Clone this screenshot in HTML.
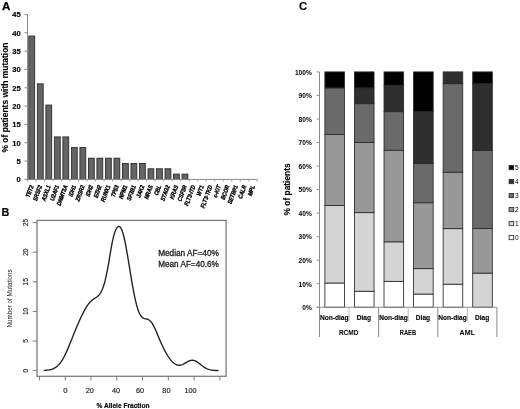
<!DOCTYPE html>
<html><head><meta charset="utf-8"><style>
html,body{margin:0;padding:0;background:#fff;}
svg{display:block;filter:grayscale(1);}
text{font-family:"Liberation Sans", sans-serif;}
</style></head><body>
<svg width="520" height="409" viewBox="0 0 520 409" font-family='"Liberation Sans", sans-serif'>
<rect width="520" height="409" fill="#fff"/>
<text x="1.9" y="9.5" font-size="11.6" font-weight="bold" stroke="#000" stroke-width="0.25">A</text>
<line x1="27.5" y1="14.5" x2="27.5" y2="179.4" stroke="#8a8a8a" stroke-width="1"/>
<line x1="24.5" y1="179.40" x2="27.5" y2="179.40" stroke="#8a8a8a" stroke-width="1"/>
<text x="20.7" y="182.20" font-size="7.6" font-weight="bold" text-anchor="end" stroke="#000" stroke-width="0.15">0</text>
<line x1="24.5" y1="161.08" x2="27.5" y2="161.08" stroke="#8a8a8a" stroke-width="1"/>
<text x="20.7" y="163.88" font-size="7.6" font-weight="bold" text-anchor="end" stroke="#000" stroke-width="0.15">5</text>
<line x1="24.5" y1="142.76" x2="27.5" y2="142.76" stroke="#8a8a8a" stroke-width="1"/>
<text x="20.7" y="145.56" font-size="7.6" font-weight="bold" text-anchor="end" stroke="#000" stroke-width="0.15">10</text>
<line x1="24.5" y1="124.44" x2="27.5" y2="124.44" stroke="#8a8a8a" stroke-width="1"/>
<text x="20.7" y="127.24" font-size="7.6" font-weight="bold" text-anchor="end" stroke="#000" stroke-width="0.15">15</text>
<line x1="24.5" y1="106.12" x2="27.5" y2="106.12" stroke="#8a8a8a" stroke-width="1"/>
<text x="20.7" y="108.92" font-size="7.6" font-weight="bold" text-anchor="end" stroke="#000" stroke-width="0.15">20</text>
<line x1="24.5" y1="87.80" x2="27.5" y2="87.80" stroke="#8a8a8a" stroke-width="1"/>
<text x="20.7" y="90.60" font-size="7.6" font-weight="bold" text-anchor="end" stroke="#000" stroke-width="0.15">25</text>
<line x1="24.5" y1="69.48" x2="27.5" y2="69.48" stroke="#8a8a8a" stroke-width="1"/>
<text x="20.7" y="72.28" font-size="7.6" font-weight="bold" text-anchor="end" stroke="#000" stroke-width="0.15">30</text>
<line x1="24.5" y1="51.16" x2="27.5" y2="51.16" stroke="#8a8a8a" stroke-width="1"/>
<text x="20.7" y="53.96" font-size="7.6" font-weight="bold" text-anchor="end" stroke="#000" stroke-width="0.15">35</text>
<line x1="24.5" y1="32.84" x2="27.5" y2="32.84" stroke="#8a8a8a" stroke-width="1"/>
<text x="20.7" y="35.64" font-size="7.6" font-weight="bold" text-anchor="end" stroke="#000" stroke-width="0.15">40</text>
<line x1="24.5" y1="14.52" x2="27.5" y2="14.52" stroke="#8a8a8a" stroke-width="1"/>
<text x="20.7" y="17.32" font-size="7.6" font-weight="bold" text-anchor="end" stroke="#000" stroke-width="0.15">45</text>
<line x1="27.50" y1="179.4" x2="27.50" y2="181.6" stroke="#8a8a8a" stroke-width="0.8"/>
<line x1="36.01" y1="179.4" x2="36.01" y2="181.6" stroke="#8a8a8a" stroke-width="0.8"/>
<line x1="44.52" y1="179.4" x2="44.52" y2="181.6" stroke="#8a8a8a" stroke-width="0.8"/>
<line x1="53.03" y1="179.4" x2="53.03" y2="181.6" stroke="#8a8a8a" stroke-width="0.8"/>
<line x1="61.54" y1="179.4" x2="61.54" y2="181.6" stroke="#8a8a8a" stroke-width="0.8"/>
<line x1="70.06" y1="179.4" x2="70.06" y2="181.6" stroke="#8a8a8a" stroke-width="0.8"/>
<line x1="78.57" y1="179.4" x2="78.57" y2="181.6" stroke="#8a8a8a" stroke-width="0.8"/>
<line x1="87.08" y1="179.4" x2="87.08" y2="181.6" stroke="#8a8a8a" stroke-width="0.8"/>
<line x1="95.59" y1="179.4" x2="95.59" y2="181.6" stroke="#8a8a8a" stroke-width="0.8"/>
<line x1="104.10" y1="179.4" x2="104.10" y2="181.6" stroke="#8a8a8a" stroke-width="0.8"/>
<line x1="112.61" y1="179.4" x2="112.61" y2="181.6" stroke="#8a8a8a" stroke-width="0.8"/>
<line x1="121.12" y1="179.4" x2="121.12" y2="181.6" stroke="#8a8a8a" stroke-width="0.8"/>
<line x1="129.63" y1="179.4" x2="129.63" y2="181.6" stroke="#8a8a8a" stroke-width="0.8"/>
<line x1="138.14" y1="179.4" x2="138.14" y2="181.6" stroke="#8a8a8a" stroke-width="0.8"/>
<line x1="146.66" y1="179.4" x2="146.66" y2="181.6" stroke="#8a8a8a" stroke-width="0.8"/>
<line x1="155.17" y1="179.4" x2="155.17" y2="181.6" stroke="#8a8a8a" stroke-width="0.8"/>
<line x1="163.68" y1="179.4" x2="163.68" y2="181.6" stroke="#8a8a8a" stroke-width="0.8"/>
<line x1="172.19" y1="179.4" x2="172.19" y2="181.6" stroke="#8a8a8a" stroke-width="0.8"/>
<line x1="180.70" y1="179.4" x2="180.70" y2="181.6" stroke="#8a8a8a" stroke-width="0.8"/>
<line x1="189.21" y1="179.4" x2="189.21" y2="181.6" stroke="#8a8a8a" stroke-width="0.8"/>
<line x1="197.72" y1="179.4" x2="197.72" y2="181.6" stroke="#8a8a8a" stroke-width="0.8"/>
<line x1="206.23" y1="179.4" x2="206.23" y2="181.6" stroke="#8a8a8a" stroke-width="0.8"/>
<line x1="214.74" y1="179.4" x2="214.74" y2="181.6" stroke="#8a8a8a" stroke-width="0.8"/>
<line x1="223.26" y1="179.4" x2="223.26" y2="181.6" stroke="#8a8a8a" stroke-width="0.8"/>
<line x1="231.77" y1="179.4" x2="231.77" y2="181.6" stroke="#8a8a8a" stroke-width="0.8"/>
<line x1="240.28" y1="179.4" x2="240.28" y2="181.6" stroke="#8a8a8a" stroke-width="0.8"/>
<line x1="248.79" y1="179.4" x2="248.79" y2="181.6" stroke="#8a8a8a" stroke-width="0.8"/>
<line x1="257.30" y1="179.4" x2="257.30" y2="181.6" stroke="#8a8a8a" stroke-width="0.8"/>
<rect x="28.84" y="36.03" width="5.85" height="143.37" fill="#646464" stroke="#262626" stroke-width="0.85"/>
<text transform="translate(33.76,186.10) rotate(-70) scale(0.83,1)" font-size="6.1" font-weight="bold" font-style="italic" text-anchor="end" stroke="#000" stroke-width="0.35">TET2</text>
<rect x="37.35" y="83.82" width="5.85" height="95.58" fill="#646464" stroke="#262626" stroke-width="0.85"/>
<text transform="translate(42.27,186.10) rotate(-70) scale(0.83,1)" font-size="6.1" font-weight="bold" font-style="italic" text-anchor="end" stroke="#000" stroke-width="0.35">SRSF2</text>
<rect x="45.86" y="105.06" width="5.85" height="74.34" fill="#646464" stroke="#262626" stroke-width="0.85"/>
<text transform="translate(50.78,186.10) rotate(-70) scale(0.83,1)" font-size="6.1" font-weight="bold" font-style="italic" text-anchor="end" stroke="#000" stroke-width="0.35">ASXL1</text>
<rect x="54.37" y="136.92" width="5.85" height="42.48" fill="#646464" stroke="#262626" stroke-width="0.85"/>
<text transform="translate(59.29,186.10) rotate(-70) scale(0.83,1)" font-size="6.1" font-weight="bold" font-style="italic" text-anchor="end" stroke="#000" stroke-width="0.35">U2AF1</text>
<rect x="62.88" y="136.92" width="5.85" height="42.48" fill="#646464" stroke="#262626" stroke-width="0.85"/>
<text transform="translate(67.80,186.10) rotate(-70) scale(0.83,1)" font-size="6.1" font-weight="bold" font-style="italic" text-anchor="end" stroke="#000" stroke-width="0.35">DNMT3A</text>
<rect x="71.39" y="147.54" width="5.85" height="31.86" fill="#646464" stroke="#262626" stroke-width="0.85"/>
<text transform="translate(76.31,186.10) rotate(-70) scale(0.83,1)" font-size="6.1" font-weight="bold" font-style="italic" text-anchor="end" stroke="#000" stroke-width="0.35">IDH1</text>
<rect x="79.90" y="147.54" width="5.85" height="31.86" fill="#646464" stroke="#262626" stroke-width="0.85"/>
<text transform="translate(84.82,186.10) rotate(-70) scale(0.83,1)" font-size="6.1" font-weight="bold" font-style="italic" text-anchor="end" stroke="#000" stroke-width="0.35">ZRSR2</text>
<rect x="88.41" y="158.16" width="5.85" height="21.24" fill="#646464" stroke="#262626" stroke-width="0.85"/>
<text transform="translate(93.33,186.10) rotate(-70) scale(0.83,1)" font-size="6.1" font-weight="bold" font-style="italic" text-anchor="end" stroke="#000" stroke-width="0.35">IDH2</text>
<rect x="96.92" y="158.16" width="5.85" height="21.24" fill="#646464" stroke="#262626" stroke-width="0.85"/>
<text transform="translate(101.84,186.10) rotate(-70) scale(0.83,1)" font-size="6.1" font-weight="bold" font-style="italic" text-anchor="end" stroke="#000" stroke-width="0.35">EZH2</text>
<rect x="105.44" y="158.16" width="5.85" height="21.24" fill="#646464" stroke="#262626" stroke-width="0.85"/>
<text transform="translate(110.36,186.10) rotate(-70) scale(0.83,1)" font-size="6.1" font-weight="bold" font-style="italic" text-anchor="end" stroke="#000" stroke-width="0.35">RUNX1</text>
<rect x="113.95" y="158.16" width="5.85" height="21.24" fill="#646464" stroke="#262626" stroke-width="0.85"/>
<text transform="translate(118.87,186.10) rotate(-70) scale(0.83,1)" font-size="6.1" font-weight="bold" font-style="italic" text-anchor="end" stroke="#000" stroke-width="0.35">TP53</text>
<rect x="122.46" y="163.47" width="5.85" height="15.93" fill="#646464" stroke="#262626" stroke-width="0.85"/>
<text transform="translate(127.38,186.10) rotate(-70) scale(0.83,1)" font-size="6.1" font-weight="bold" font-style="italic" text-anchor="end" stroke="#000" stroke-width="0.35">NPM1</text>
<rect x="130.97" y="163.47" width="5.85" height="15.93" fill="#646464" stroke="#262626" stroke-width="0.85"/>
<text transform="translate(135.89,186.10) rotate(-70) scale(0.83,1)" font-size="6.1" font-weight="bold" font-style="italic" text-anchor="end" stroke="#000" stroke-width="0.35">SF3B1</text>
<rect x="139.48" y="163.47" width="5.85" height="15.93" fill="#646464" stroke="#262626" stroke-width="0.85"/>
<text transform="translate(144.40,186.10) rotate(-70) scale(0.83,1)" font-size="6.1" font-weight="bold" font-style="italic" text-anchor="end" stroke="#000" stroke-width="0.35">JAK2</text>
<rect x="147.99" y="168.78" width="5.85" height="10.62" fill="#646464" stroke="#262626" stroke-width="0.85"/>
<text transform="translate(152.91,186.10) rotate(-70) scale(0.83,1)" font-size="6.1" font-weight="bold" font-style="italic" text-anchor="end" stroke="#000" stroke-width="0.35">NRAS</text>
<rect x="156.50" y="168.78" width="5.85" height="10.62" fill="#646464" stroke="#262626" stroke-width="0.85"/>
<text transform="translate(161.42,186.10) rotate(-70) scale(0.83,1)" font-size="6.1" font-weight="bold" font-style="italic" text-anchor="end" stroke="#000" stroke-width="0.35">CBL</text>
<rect x="165.01" y="168.78" width="5.85" height="10.62" fill="#646464" stroke="#262626" stroke-width="0.85"/>
<text transform="translate(169.93,186.10) rotate(-70) scale(0.83,1)" font-size="6.1" font-weight="bold" font-style="italic" text-anchor="end" stroke="#000" stroke-width="0.35">STAG2</text>
<rect x="173.52" y="174.09" width="5.85" height="5.31" fill="#646464" stroke="#262626" stroke-width="0.85"/>
<text transform="translate(178.44,186.10) rotate(-70) scale(0.83,1)" font-size="6.1" font-weight="bold" font-style="italic" text-anchor="end" stroke="#000" stroke-width="0.35">KRAS</text>
<rect x="182.04" y="174.09" width="5.85" height="5.31" fill="#646464" stroke="#262626" stroke-width="0.85"/>
<text transform="translate(186.96,186.10) rotate(-70) scale(0.83,1)" font-size="6.1" font-weight="bold" font-style="italic" text-anchor="end" stroke="#000" stroke-width="0.35">CSF3R</text>
<text transform="translate(195.47,186.10) rotate(-70) scale(0.83,1)" font-size="6.1" font-weight="bold" font-style="italic" text-anchor="end" stroke="#000" stroke-width="0.35">FLT3-ITD</text>
<text transform="translate(203.98,186.10) rotate(-70) scale(0.83,1)" font-size="6.1" font-weight="bold" font-style="italic" text-anchor="end" stroke="#000" stroke-width="0.35">WT1</text>
<text transform="translate(212.49,186.10) rotate(-70) scale(0.83,1)" font-size="6.1" font-weight="bold" font-style="italic" text-anchor="end" stroke="#000" stroke-width="0.35">FLT3-TKD</text>
<text transform="translate(221.00,186.10) rotate(-70) scale(0.83,1)" font-size="6.1" font-weight="bold" font-style="italic" text-anchor="end" stroke="#000" stroke-width="0.35">c-KIT</text>
<text transform="translate(229.51,186.10) rotate(-70) scale(0.83,1)" font-size="6.1" font-weight="bold" font-style="italic" text-anchor="end" stroke="#000" stroke-width="0.35">BCOR</text>
<text transform="translate(238.02,186.10) rotate(-70) scale(0.83,1)" font-size="6.1" font-weight="bold" font-style="italic" text-anchor="end" stroke="#000" stroke-width="0.35">SETBP1</text>
<text transform="translate(246.53,186.10) rotate(-70) scale(0.83,1)" font-size="6.1" font-weight="bold" font-style="italic" text-anchor="end" stroke="#000" stroke-width="0.35">CALR</text>
<text transform="translate(255.04,186.10) rotate(-70) scale(0.83,1)" font-size="6.1" font-weight="bold" font-style="italic" text-anchor="end" stroke="#000" stroke-width="0.35">MPL</text>
<line x1="27.0" y1="179.4" x2="257.3" y2="179.4" stroke="#8a8a8a" stroke-width="1"/>
<text transform="translate(7.8,97.55) rotate(-90)" font-size="8.48" font-weight="bold" text-anchor="middle" stroke="#000" stroke-width="0.12">% of patients with mutation</text>
<text x="1.6" y="216" font-size="10.9" font-weight="bold" stroke="#000" stroke-width="0.15">B</text>
<rect x="37.0" y="220.4" width="189.1" height="155.9" fill="none" stroke="#7c7c7c" stroke-width="1.3"/>
<line x1="32.7" y1="370.60" x2="37" y2="370.60" stroke="#7c7c7c" stroke-width="1"/>
<text transform="translate(28.0,370.60) rotate(-90)" font-size="6.6" text-anchor="middle" fill="#222" stroke="#222" stroke-width="0.15">0</text>
<line x1="32.7" y1="341.00" x2="37" y2="341.00" stroke="#7c7c7c" stroke-width="1"/>
<text transform="translate(28.0,341.00) rotate(-90)" font-size="6.6" text-anchor="middle" fill="#222" stroke="#222" stroke-width="0.15">5</text>
<line x1="32.7" y1="311.40" x2="37" y2="311.40" stroke="#7c7c7c" stroke-width="1"/>
<text transform="translate(28.0,311.40) rotate(-90)" font-size="6.6" text-anchor="middle" fill="#222" stroke="#222" stroke-width="0.15">10</text>
<line x1="32.7" y1="281.80" x2="37" y2="281.80" stroke="#7c7c7c" stroke-width="1"/>
<text transform="translate(28.0,281.80) rotate(-90)" font-size="6.6" text-anchor="middle" fill="#222" stroke="#222" stroke-width="0.15">15</text>
<line x1="32.7" y1="252.20" x2="37" y2="252.20" stroke="#7c7c7c" stroke-width="1"/>
<text transform="translate(28.0,252.20) rotate(-90)" font-size="6.6" text-anchor="middle" fill="#222" stroke="#222" stroke-width="0.15">20</text>
<line x1="32.7" y1="222.60" x2="37" y2="222.60" stroke="#7c7c7c" stroke-width="1"/>
<text transform="translate(28.0,222.60) rotate(-90)" font-size="6.6" text-anchor="middle" fill="#222" stroke="#222" stroke-width="0.15">25</text>
<line x1="39.50" y1="376.3" x2="39.50" y2="380.4" stroke="#7c7c7c" stroke-width="1"/>
<line x1="65.27" y1="376.3" x2="65.27" y2="380.4" stroke="#7c7c7c" stroke-width="1"/>
<text x="63.20" y="393.1" font-size="6.8" fill="#222" stroke="#222" stroke-width="0.15" textLength="4.3" lengthAdjust="spacingAndGlyphs">0</text>
<line x1="91.04" y1="376.3" x2="91.04" y2="380.4" stroke="#7c7c7c" stroke-width="1"/>
<text x="85.80" y="393.1" font-size="6.8" fill="#222" stroke="#222" stroke-width="0.15" textLength="8.1" lengthAdjust="spacingAndGlyphs">20</text>
<line x1="116.81" y1="376.3" x2="116.81" y2="380.4" stroke="#7c7c7c" stroke-width="1"/>
<text x="112.00" y="393.1" font-size="6.8" fill="#222" stroke="#222" stroke-width="0.15" textLength="8.1" lengthAdjust="spacingAndGlyphs">40</text>
<line x1="142.59" y1="376.3" x2="142.59" y2="380.4" stroke="#7c7c7c" stroke-width="1"/>
<text x="135.95" y="393.1" font-size="6.8" fill="#222" stroke="#222" stroke-width="0.15" textLength="8.1" lengthAdjust="spacingAndGlyphs">60</text>
<line x1="168.36" y1="376.3" x2="168.36" y2="380.4" stroke="#7c7c7c" stroke-width="1"/>
<text x="162.35" y="393.1" font-size="6.8" fill="#222" stroke="#222" stroke-width="0.15" textLength="8.1" lengthAdjust="spacingAndGlyphs">80</text>
<line x1="194.13" y1="376.3" x2="194.13" y2="380.4" stroke="#7c7c7c" stroke-width="1"/>
<text x="184.55" y="393.1" font-size="6.8" fill="#222" stroke="#222" stroke-width="0.15" textLength="12.1" lengthAdjust="spacingAndGlyphs">100</text>
<line x1="219.90" y1="376.3" x2="219.90" y2="380.4" stroke="#7c7c7c" stroke-width="1"/>
<text x="123" y="407.6" font-size="6.6" font-weight="bold" text-anchor="middle" stroke="#000" stroke-width="0.15">% Allele Fraction</text>
<text transform="translate(12.2,298.4) rotate(-90)" font-size="6.9" text-anchor="middle" fill="#222" textLength="58" lengthAdjust="spacingAndGlyphs">Number of Mutations</text>
<path d="M43.75,370.46 L44.63,370.42 L45.51,370.36 L46.38,370.29 L47.26,370.20 L48.14,370.09 L49.02,369.95 L49.90,369.78 L50.77,369.57 L51.65,369.31 L52.53,369.00 L53.41,368.64 L54.29,368.20 L55.17,367.70 L56.04,367.11 L56.92,366.42 L57.80,365.64 L58.68,364.76 L59.56,363.76 L60.43,362.65 L61.31,361.42 L62.19,360.07 L63.07,358.60 L63.95,357.02 L64.82,355.32 L65.70,353.52 L66.58,351.62 L67.46,349.64 L68.34,347.59 L69.21,345.48 L70.09,343.32 L70.97,341.13 L71.85,338.92 L72.73,336.71 L73.60,334.51 L74.48,332.32 L75.36,330.16 L76.24,328.04 L77.12,325.95 L77.99,323.90 L78.87,321.90 L79.75,319.95 L80.63,318.05 L81.51,316.20 L82.39,314.41 L83.26,312.68 L84.14,311.01 L85.02,309.42 L85.90,307.90 L86.78,306.48 L87.65,305.15 L88.53,303.93 L89.41,302.82 L90.29,301.83 L91.17,300.94 L92.04,300.17 L92.92,299.48 L93.80,298.87 L94.68,298.31 L95.56,297.77 L96.43,297.20 L97.31,296.57 L98.19,295.82 L99.07,294.91 L99.95,293.80 L100.82,292.42 L101.70,290.74 L102.58,288.71 L103.46,286.30 L104.34,283.46 L105.21,280.18 L106.09,276.42 L106.97,272.19 L107.85,267.54 L108.73,262.54 L109.60,257.33 L110.48,252.12 L111.36,247.10 L112.24,242.48 L113.12,238.40 L114.00,234.94 L114.87,232.11 L115.75,229.87 L116.63,228.19 L117.51,227.05 L118.39,226.45 L119.26,226.42 L120.14,227.00 L121.02,228.22 L121.90,230.10 L122.78,232.62 L123.65,235.77 L124.53,239.49 L125.41,243.70 L126.29,248.33 L127.17,253.30 L128.04,258.51 L128.92,263.87 L129.80,269.28 L130.68,274.67 L131.56,279.94 L132.43,285.03 L133.31,289.86 L134.19,294.39 L135.07,298.57 L135.95,302.35 L136.82,305.73 L137.70,308.67 L138.58,311.19 L139.46,313.28 L140.34,314.96 L141.22,316.26 L142.09,317.23 L142.97,317.91 L143.85,318.36 L144.73,318.64 L145.61,318.83 L146.48,319.00 L147.36,319.21 L148.24,319.53 L149.12,320.01 L150.00,320.70 L150.87,321.60 L151.75,322.74 L152.63,324.10 L153.51,325.67 L154.39,327.42 L155.26,329.31 L156.14,331.31 L157.02,333.37 L157.90,335.46 L158.78,337.56 L159.65,339.63 L160.53,341.67 L161.41,343.65 L162.29,345.56 L163.17,347.41 L164.04,349.18 L164.92,350.88 L165.80,352.50 L166.68,354.04 L167.56,355.49 L168.44,356.86 L169.31,358.14 L170.19,359.32 L171.07,360.41 L171.95,361.39 L172.83,362.27 L173.70,363.05 L174.58,363.71 L175.46,364.25 L176.34,364.68 L177.22,365.00 L178.09,365.19 L178.97,365.27 L179.85,365.23 L180.73,365.09 L181.61,364.84 L182.48,364.51 L183.36,364.11 L184.24,363.64 L185.12,363.14 L186.00,362.62 L186.87,362.10 L187.75,361.61 L188.63,361.16 L189.51,360.79 L190.39,360.50 L191.26,360.32 L192.14,360.24 L193.02,360.29 L193.90,360.45 L194.78,360.73 L195.65,361.12 L196.53,361.60 L197.41,362.17 L198.29,362.79 L199.17,363.46 L200.05,364.15 L200.92,364.84 L201.80,365.53 L202.68,366.19 L203.56,366.81 L204.44,367.38 L205.31,367.90 L206.19,368.37 L207.07,368.77 L207.95,369.13 L208.83,369.42 L209.70,369.67 L210.58,369.88 L211.46,370.05 L212.34,370.18 L213.22,370.29 L214.09,370.37 L214.97,370.43 L215.85,370.48 L216.73,370.51 L217.61,370.54 L218.48,370.56" fill="none" stroke="#1e1e1e" stroke-width="1.35" stroke-linejoin="round"/>
<text x="158.2" y="255.7" font-size="8.2" fill="#1a1a1a" stroke="#1a1a1a" stroke-width="0.28" textLength="60.6" lengthAdjust="spacingAndGlyphs">Median AF=40%</text>
<text x="158.2" y="266.5" font-size="8.2" fill="#1a1a1a" stroke="#1a1a1a" stroke-width="0.28" textLength="60.6" lengthAdjust="spacingAndGlyphs">Mean AF=40.6%</text>
<text x="299.1" y="9.6" font-size="11.3" font-weight="bold" stroke="#000" stroke-width="0.15">C</text>
<rect x="324.88" y="283.01" width="19.6" height="24.24" fill="#ffffff" stroke="#2a2a2a" stroke-width="0.85"/>
<rect x="324.88" y="205.58" width="19.6" height="77.43" fill="#d4d4d4" stroke="#2a2a2a" stroke-width="0.85"/>
<rect x="324.88" y="134.50" width="19.6" height="71.08" fill="#989898" stroke="#2a2a2a" stroke-width="0.85"/>
<rect x="324.88" y="87.90" width="19.6" height="46.60" fill="#6a6a6a" stroke="#2a2a2a" stroke-width="0.85"/>
<rect x="324.88" y="71.90" width="19.6" height="16.00" fill="#000000" stroke="#2a2a2a" stroke-width="0.85"/>
<rect x="354.45" y="291.25" width="19.6" height="16.00" fill="#ffffff" stroke="#2a2a2a" stroke-width="0.85"/>
<rect x="354.45" y="212.64" width="19.6" height="78.61" fill="#d4d4d4" stroke="#2a2a2a" stroke-width="0.85"/>
<rect x="354.45" y="142.50" width="19.6" height="70.13" fill="#989898" stroke="#2a2a2a" stroke-width="0.85"/>
<rect x="354.45" y="103.67" width="19.6" height="38.83" fill="#6a6a6a" stroke="#2a2a2a" stroke-width="0.85"/>
<rect x="354.45" y="87.90" width="19.6" height="15.77" fill="#2e2e2e" stroke="#2a2a2a" stroke-width="0.85"/>
<rect x="354.45" y="71.90" width="19.6" height="16.00" fill="#000000" stroke="#2a2a2a" stroke-width="0.85"/>
<rect x="384.02" y="281.36" width="19.6" height="25.89" fill="#ffffff" stroke="#2a2a2a" stroke-width="0.85"/>
<rect x="384.02" y="241.82" width="19.6" height="39.54" fill="#d4d4d4" stroke="#2a2a2a" stroke-width="0.85"/>
<rect x="384.02" y="150.27" width="19.6" height="91.55" fill="#989898" stroke="#2a2a2a" stroke-width="0.85"/>
<rect x="384.02" y="111.67" width="19.6" height="38.60" fill="#6a6a6a" stroke="#2a2a2a" stroke-width="0.85"/>
<rect x="384.02" y="85.31" width="19.6" height="26.36" fill="#2e2e2e" stroke="#2a2a2a" stroke-width="0.85"/>
<rect x="384.02" y="71.90" width="19.6" height="13.41" fill="#000000" stroke="#2a2a2a" stroke-width="0.85"/>
<rect x="413.58" y="294.07" width="19.6" height="13.18" fill="#ffffff" stroke="#2a2a2a" stroke-width="0.85"/>
<rect x="413.58" y="268.65" width="19.6" height="25.42" fill="#d4d4d4" stroke="#2a2a2a" stroke-width="0.85"/>
<rect x="413.58" y="202.75" width="19.6" height="65.90" fill="#989898" stroke="#2a2a2a" stroke-width="0.85"/>
<rect x="413.58" y="163.45" width="19.6" height="39.30" fill="#6a6a6a" stroke="#2a2a2a" stroke-width="0.85"/>
<rect x="413.58" y="111.67" width="19.6" height="51.78" fill="#2e2e2e" stroke="#2a2a2a" stroke-width="0.85"/>
<rect x="413.58" y="71.90" width="19.6" height="39.77" fill="#000000" stroke="#2a2a2a" stroke-width="0.85"/>
<rect x="443.15" y="284.19" width="19.6" height="23.06" fill="#ffffff" stroke="#2a2a2a" stroke-width="0.85"/>
<rect x="443.15" y="228.64" width="19.6" height="55.54" fill="#d4d4d4" stroke="#2a2a2a" stroke-width="0.85"/>
<rect x="443.15" y="172.16" width="19.6" height="56.48" fill="#989898" stroke="#2a2a2a" stroke-width="0.85"/>
<rect x="443.15" y="83.67" width="19.6" height="88.49" fill="#6a6a6a" stroke="#2a2a2a" stroke-width="0.85"/>
<rect x="443.15" y="71.90" width="19.6" height="11.77" fill="#2e2e2e" stroke="#2a2a2a" stroke-width="0.85"/>
<rect x="472.72" y="273.12" width="19.6" height="34.13" fill="#d4d4d4" stroke="#2a2a2a" stroke-width="0.85"/>
<rect x="472.72" y="228.41" width="19.6" height="44.72" fill="#989898" stroke="#2a2a2a" stroke-width="0.85"/>
<rect x="472.72" y="150.51" width="19.6" height="77.90" fill="#6a6a6a" stroke="#2a2a2a" stroke-width="0.85"/>
<rect x="472.72" y="83.67" width="19.6" height="66.84" fill="#2e2e2e" stroke="#2a2a2a" stroke-width="0.85"/>
<rect x="472.72" y="71.90" width="19.6" height="11.77" fill="#000000" stroke="#2a2a2a" stroke-width="0.85"/>
<line x1="319.5" y1="71.9" x2="319.5" y2="307.25" stroke="#8a8a8a" stroke-width="1"/>
<line x1="316.5" y1="307.25" x2="319.5" y2="307.25" stroke="#8a8a8a" stroke-width="0.9"/>
<text x="311.8" y="310.05" font-size="6.6" font-weight="bold" text-anchor="end">0%</text>
<line x1="316.5" y1="283.71" x2="319.5" y2="283.71" stroke="#8a8a8a" stroke-width="0.9"/>
<text x="311.8" y="286.51" font-size="6.6" font-weight="bold" text-anchor="end">10%</text>
<line x1="316.5" y1="260.18" x2="319.5" y2="260.18" stroke="#8a8a8a" stroke-width="0.9"/>
<text x="311.8" y="262.98" font-size="6.6" font-weight="bold" text-anchor="end">20%</text>
<line x1="316.5" y1="236.64" x2="319.5" y2="236.64" stroke="#8a8a8a" stroke-width="0.9"/>
<text x="311.8" y="239.44" font-size="6.6" font-weight="bold" text-anchor="end">30%</text>
<line x1="316.5" y1="213.11" x2="319.5" y2="213.11" stroke="#8a8a8a" stroke-width="0.9"/>
<text x="311.8" y="215.91" font-size="6.6" font-weight="bold" text-anchor="end">40%</text>
<line x1="316.5" y1="189.57" x2="319.5" y2="189.57" stroke="#8a8a8a" stroke-width="0.9"/>
<text x="311.8" y="192.38" font-size="6.6" font-weight="bold" text-anchor="end">50%</text>
<line x1="316.5" y1="166.04" x2="319.5" y2="166.04" stroke="#8a8a8a" stroke-width="0.9"/>
<text x="311.8" y="168.84" font-size="6.6" font-weight="bold" text-anchor="end">60%</text>
<line x1="316.5" y1="142.50" x2="319.5" y2="142.50" stroke="#8a8a8a" stroke-width="0.9"/>
<text x="311.8" y="145.31" font-size="6.6" font-weight="bold" text-anchor="end">70%</text>
<line x1="316.5" y1="118.97" x2="319.5" y2="118.97" stroke="#8a8a8a" stroke-width="0.9"/>
<text x="311.8" y="121.77" font-size="6.6" font-weight="bold" text-anchor="end">80%</text>
<line x1="316.5" y1="95.44" x2="319.5" y2="95.44" stroke="#8a8a8a" stroke-width="0.9"/>
<text x="311.8" y="98.23" font-size="6.6" font-weight="bold" text-anchor="end">90%</text>
<line x1="316.5" y1="71.90" x2="319.5" y2="71.90" stroke="#8a8a8a" stroke-width="0.9"/>
<text x="311.8" y="74.70" font-size="6.6" font-weight="bold" text-anchor="end">100%</text>
<line x1="316.5" y1="307.25" x2="496.9" y2="307.25" stroke="#8a8a8a" stroke-width="1"/>
<line x1="319.50" y1="307.25" x2="319.50" y2="337" stroke="#8a8a8a" stroke-width="1"/>
<line x1="378.63" y1="307.25" x2="378.63" y2="337" stroke="#8a8a8a" stroke-width="1"/>
<line x1="437.77" y1="307.25" x2="437.77" y2="337" stroke="#8a8a8a" stroke-width="1"/>
<line x1="496.90" y1="307.25" x2="496.90" y2="337" stroke="#8a8a8a" stroke-width="1"/>
<line x1="349.07" y1="307.25" x2="349.07" y2="321" stroke="#b0b0b0" stroke-width="0.9"/>
<line x1="408.20" y1="307.25" x2="408.20" y2="321" stroke="#b0b0b0" stroke-width="0.9"/>
<line x1="467.33" y1="307.25" x2="467.33" y2="321" stroke="#b0b0b0" stroke-width="0.9"/>
<text x="334.28" y="319.8" font-size="6.6" font-weight="bold" text-anchor="middle" stroke="#000" stroke-width="0.12">Non-diag</text>
<text x="363.85" y="319.8" font-size="6.6" font-weight="bold" text-anchor="middle" stroke="#000" stroke-width="0.12">Diag</text>
<text x="393.42" y="319.8" font-size="6.6" font-weight="bold" text-anchor="middle" stroke="#000" stroke-width="0.12">Non-diag</text>
<text x="422.98" y="319.8" font-size="6.6" font-weight="bold" text-anchor="middle" stroke="#000" stroke-width="0.12">Diag</text>
<text x="452.55" y="319.8" font-size="6.6" font-weight="bold" text-anchor="middle" stroke="#000" stroke-width="0.12">Non-diag</text>
<text x="482.12" y="319.8" font-size="6.6" font-weight="bold" text-anchor="middle" stroke="#000" stroke-width="0.12">Diag</text>
<text x="338.90" y="334.6" font-size="6.5" font-weight="bold" textLength="19.6" lengthAdjust="spacingAndGlyphs">RCMD</text>
<text x="399.70" y="334.6" font-size="6.5" font-weight="bold" textLength="16.5" lengthAdjust="spacingAndGlyphs">RAEB</text>
<text x="459.60" y="334.6" font-size="6.5" font-weight="bold" textLength="15.4" lengthAdjust="spacingAndGlyphs">AML</text>
<text transform="translate(290.1,189.4) rotate(-90)" font-size="8.4" font-weight="bold" text-anchor="middle" stroke="#000" stroke-width="0.12">% of patients</text>
<rect x="509.1" y="165.50" width="4.6" height="4.2" fill="#000000" stroke="#2a2a2a" stroke-width="0.8"/>
<text x="515.1" y="170.00" font-size="6.6">5</text>
<rect x="509.1" y="179.50" width="4.6" height="4.2" fill="#2e2e2e" stroke="#2a2a2a" stroke-width="0.8"/>
<text x="515.1" y="184.00" font-size="6.6">4</text>
<rect x="509.1" y="193.50" width="4.6" height="4.2" fill="#6a6a6a" stroke="#2a2a2a" stroke-width="0.8"/>
<text x="515.1" y="198.00" font-size="6.6">3</text>
<rect x="509.1" y="207.50" width="4.6" height="4.2" fill="#989898" stroke="#2a2a2a" stroke-width="0.8"/>
<text x="515.1" y="212.00" font-size="6.6">2</text>
<rect x="509.1" y="221.50" width="4.6" height="4.2" fill="#d4d4d4" stroke="#2a2a2a" stroke-width="0.8"/>
<text x="515.1" y="226.00" font-size="6.6">1</text>
<rect x="509.1" y="235.50" width="4.6" height="4.2" fill="#ffffff" stroke="#2a2a2a" stroke-width="0.8"/>
<text x="515.1" y="240.00" font-size="6.6">0</text>
</svg>
</body></html>
